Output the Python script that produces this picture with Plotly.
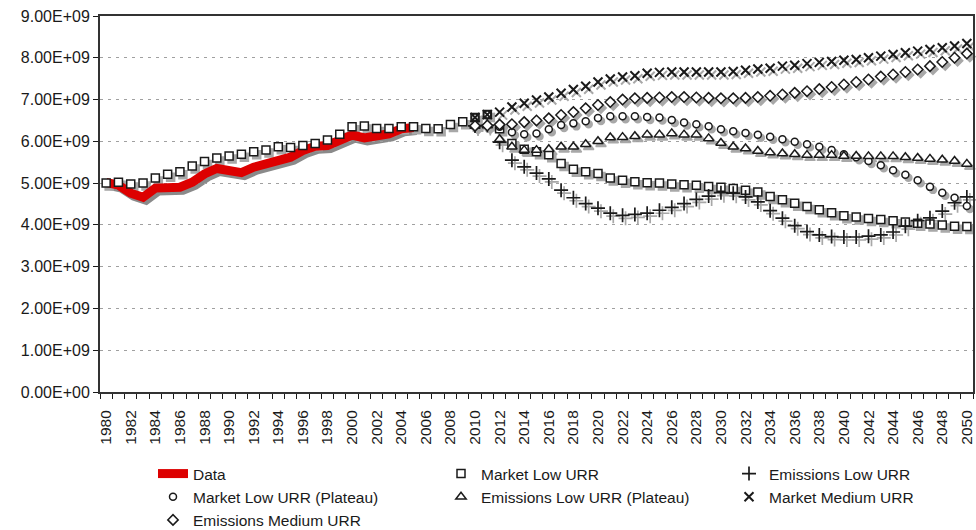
import plotly.graph_objects as go

# ---- data (values in units of 1e9) ----
years_data = list(range(1980, 2006))
data_hist = [5.02, 4.95, 4.76, 4.66, 4.88, 4.90, 4.90, 5.02, 5.22, 5.35,
             5.30, 5.25, 5.38, 5.47, 5.55, 5.62, 5.78, 5.88, 5.90, 6.00,
             6.15, 6.08, 6.12, 6.18, 6.30, 6.33]

years_all = list(range(1980, 2051))
market_low = [5.00, 5.02, 4.98, 5.00, 5.12, 5.21, 5.27, 5.41, 5.52, 5.60,
              5.65, 5.69, 5.75, 5.79, 5.87, 5.85, 5.90, 5.95, 6.03, 6.17,
              6.35, 6.37, 6.31, 6.31, 6.35, 6.35, 6.31, 6.30, 6.40, 6.47,
              6.57, 6.64, 6.30, 5.95, 5.81, 5.75, 5.68, 5.47, 5.33, 5.27,
              5.23, 5.12, 5.07, 5.03, 5.01, 5.00, 4.98, 4.96, 4.95, 4.92,
              4.90, 4.87, 4.83, 4.79, 4.68, 4.60, 4.52, 4.44, 4.36, 4.29,
              4.22, 4.19, 4.15, 4.13, 4.10, 4.07, 4.04, 4.02, 4.00, 3.97,
              3.96]

years_proj = list(range(2010, 2051))
emissions_low = [6.37, 6.38, 5.98, 5.55, 5.39, 5.24, 5.10, 4.83, 4.65, 4.51,
                 4.40, 4.28, 4.23, 4.25, 4.28, 4.35, 4.42, 4.51, 4.61, 4.69,
                 4.77, 4.76, 4.67, 4.55, 4.34, 4.16, 3.98, 3.84, 3.76, 3.72,
                 3.71, 3.71, 3.73, 3.76, 3.83, 3.97, 4.10, 4.17, 4.33, 4.53,
                 4.67]
market_low_plateau = [6.57, 6.64, 6.35, 6.22, 6.17, 6.19, 6.29, 6.39, 6.43, 6.48,
                      6.56, 6.60, 6.60, 6.60, 6.58, 6.57, 6.51, 6.45, 6.41, 6.36,
                      6.29, 6.24, 6.20, 6.16, 6.11, 6.05, 5.99, 5.93, 5.87, 5.79,
                      5.69, 5.62, 5.53, 5.43, 5.31, 5.20, 5.07, 4.91, 4.77, 4.65,
                      4.45]
emissions_low_plateau = [6.37, 6.38, 6.05, 5.87, 5.79, 5.79, 5.81, 5.87, 5.87, 5.93,
                         6.00, 6.09, 6.10, 6.12, 6.16, 6.16, 6.19, 6.16, 6.16, 6.07,
                         5.96, 5.87, 5.83, 5.77, 5.73, 5.71, 5.69, 5.67, 5.67, 5.67,
                         5.65, 5.65, 5.64, 5.64, 5.64, 5.62, 5.60, 5.58, 5.56, 5.53,
                         5.46]
market_medium = [6.57, 6.64, 6.70, 6.82, 6.91, 6.99, 7.06, 7.15, 7.24, 7.32,
                 7.42, 7.49, 7.54, 7.57, 7.63, 7.65, 7.66, 7.66, 7.66, 7.66,
                 7.66, 7.67, 7.70, 7.73, 7.75, 7.80, 7.82, 7.86, 7.89, 7.91,
                 7.94, 7.96, 8.00, 8.04, 8.08, 8.12, 8.16, 8.20, 8.24, 8.28,
                 8.34]
emissions_medium = [6.37, 6.38, 6.40, 6.41, 6.46, 6.50, 6.55, 6.63, 6.70, 6.79,
                    6.87, 6.94, 7.00, 7.03, 7.04, 7.05, 7.06, 7.06, 7.05, 7.04,
                    7.03, 7.03, 7.04, 7.06, 7.09, 7.12, 7.16, 7.20, 7.25, 7.30,
                    7.36, 7.42, 7.48, 7.55, 7.60, 7.66, 7.72, 7.80, 7.90, 8.00,
                    8.10]

y_tick_vals = [i * 1e9 for i in range(10)]
y_tick_text = ["0.00E+00", "1.00E+09", "2.00E+09", "3.00E+09", "4.00E+09",
               "5.00E+09", "6.00E+09", "7.00E+09", "8.00E+09", "9.00E+09"]
x_tick_vals = list(range(1980, 2051, 2))
x_tick_text = [str(v) for v in x_tick_vals]

SCALE = 1e9
FONT = "Liberation Sans, Arial, sans-serif"
INK = "#1a1a1a"
SHADOW = "#a8a8a8"

# plot geometry (pixels)
W, H = 976, 530
ML, MR, MT, MB = 100, 0, 16, 135
PW, PH = W - ML - MR, H - MT - MB
DX, DY = 3, 3  # drop-shadow offset
dxf, dyf = DX / PW, DY / PH


def scaled(vals):
    return [v * SCALE for v in vals]


marker_series = [
    ("Market Low URR", years_all, market_low,
     dict(symbol="square", size=8, color="white", line=dict(color=INK, width=1.5))),
    ("Emissions Low URR", years_proj, emissions_low,
     dict(symbol="cross-thin", size=10, color=INK, line=dict(color=INK, width=1.7))),
    ("Market Low URR (Plateau)", years_proj, market_low_plateau,
     dict(symbol="circle", size=7, color="white", line=dict(color=INK, width=1.5))),
    ("Emissions Low URR (Plateau)", years_proj, emissions_low_plateau,
     dict(symbol="triangle-up", size=9, color="white", line=dict(color=INK, width=1.5))),
    ("Market Medium URR", years_proj, market_medium,
     dict(symbol="x-thin", size=9, color=INK, line=dict(color=INK, width=2))),
    ("Emissions Medium URR", years_proj, emissions_medium,
     dict(symbol="diamond", size=8, color="white", line=dict(color=INK, width=1.5))),
]

fig = go.Figure()

# shadows on the lower-right offset axes
fig.add_trace(go.Scatter(x=years_data, y=scaled(data_hist), mode="lines",
                         line=dict(color="#8a8a8a", width=9), showlegend=False,
                         hoverinfo="skip", xaxis="x", yaxis="y"))
for name, xs, ys, mk in marker_series:
    sh = dict(mk)
    sh["color"] = SHADOW
    sh["line"] = dict(color=SHADOW, width=mk["line"]["width"])
    fig.add_trace(go.Scatter(x=xs, y=scaled(ys), mode="markers", marker=sh,
                             showlegend=False, hoverinfo="skip", xaxis="x", yaxis="y"))

# main series
fig.add_trace(go.Scatter(x=years_data, y=scaled(data_hist), mode="lines", name="Data",
                         line=dict(color="#dd0000", width=9),
                         xaxis="x2", yaxis="y2"))
for name, xs, ys, mk in marker_series:
    fig.add_trace(go.Scatter(x=xs, y=scaled(ys), mode="markers", name=name,
                             marker=mk, xaxis="x2", yaxis="y2"))

xr = [1979.5, 2050.5]
yr = [0, 9e9]

fig.update_layout(
    width=W, height=H,
    margin=dict(l=ML, r=MR, t=MT, b=MB, autoexpand=False),
    paper_bgcolor="white", plot_bgcolor="rgba(0,0,0,0)",
    font=dict(family=FONT, color=INK, size=15.5),
    xaxis=dict(domain=[dxf, 1], range=xr, visible=False, anchor="y"),
    yaxis=dict(domain=[0, 1 - dyf], range=yr, visible=False, anchor="x"),
    xaxis2=dict(domain=[0, 1 - dxf], range=xr, anchor="y2",
                tickmode="array", tickvals=x_tick_vals, ticktext=x_tick_text,
                tickangle=-90, tickfont=dict(size=15.5, color=INK),
                ticks="outside", ticklen=10, tickcolor="rgba(0,0,0,0)",
                minor=dict(ticks="outside", ticklen=5, tick0=1979.5, dtick=1,
                           tickcolor=INK, tickwidth=1.2, showgrid=False),
                showgrid=False, zeroline=False,
                showline=True, linecolor="#333", linewidth=2, mirror=True),
    yaxis2=dict(domain=[dyf, 1], range=yr, anchor="x2",
                tickmode="array", tickvals=y_tick_vals, ticktext=y_tick_text,
                tickfont=dict(size=16, color=INK),
                ticks="outside", ticklen=5, tickcolor=INK, tickwidth=1.2,
                showgrid=True, gridcolor="#a0a0a0", gridwidth=1, griddash="3px,5px",
                zeroline=False,
                showline=True, linecolor="#333", linewidth=2, mirror=True),
    legend=dict(orientation="h", x=(153 - ML) / PW, xanchor="left",
                y=(PH - (457 - MT)) / PH, yanchor="top",
                entrywidth=243, entrywidthmode="pixels",
                font=dict(size=15.5, color=INK), bgcolor="rgba(0,0,0,0)",
                traceorder="normal"),
    showlegend=True,
)

fig.write_html("out.html")
